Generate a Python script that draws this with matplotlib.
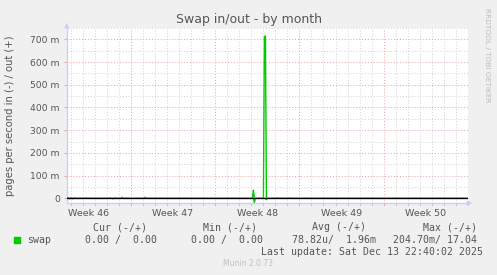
import numpy as np
import matplotlib
matplotlib.use("Agg")
import matplotlib.pyplot as plt
from matplotlib.ticker import FixedLocator, FuncFormatter

# time axis in days, 0 = start of Week 47
x_start, x_end = -5.32, 28.0
week_starts = [0, 7, 14, 21]
week_labels = ["Week 46", "Week 47", "Week 48", "Week 49", "Week 50"]
week_centers = [-3.5, 3.5, 10.5, 17.5, 24.5]

# pages/s in milli units, 2-hour samples
out_days = [-5.2, -4.95, -4.7, -3.7, -1.7, -1.3, -0.7, 1.2, 10.2,
            11.08, 11.16, 12.2, 13.2]
out_vals = [3, 3, 3, 2, 2, 2, 5, 5, 37, 712, 715, 2, 2]
in_days = [-5.1, -4.8, -1.5, 10.25, 11.25]
in_vals = [2, 2, 2, 18, 6]

y_ticks = [0, 100, 200, 300, 400, 500, 600, 700]

BG = "#f0f0f0"
AXIS = "#c8d0f8"
TXT = "#555555"
GREEN = "#00cc00"
MAJOR = "#e8a0a0"
MINOR = "#d0d0d0"

t = np.arange(x_start, x_end, 1 / 12.0)
out_s = np.zeros_like(t)
in_s = np.zeros_like(t)
for d, v in zip(out_days, out_vals):
    out_s[np.argmin(np.abs(t - d))] = v
for d, v in zip(in_days, in_vals):
    in_s[np.argmin(np.abs(t - d))] = v

fig = plt.figure(figsize=(4.97, 2.75), dpi=100, facecolor=BG)
W, H = 497, 275
ax = fig.add_axes([66.7 / W, 1 - 203 / H, (468 - 66.7) / W, (203 - 28) / H])
ax.set_facecolor("white")
ax.set_xlim(x_start, x_end)
ax.set_ylim(-20.5, 750)

# grid
for d in np.arange(-5, 29):
    if d in week_starts:
        continue
    ax.axvline(d, color=MINOR, lw=0.7, ls=(0, (1, 2)), zorder=1)
for d in week_starts:
    ax.axvline(d, color=MAJOR, lw=0.7, ls=(0, (1, 2)), zorder=1)
for y in np.arange(50, 800, 100):
    ax.axhline(y, color=MINOR, lw=0.7, ls=(0, (1, 2)), zorder=1)
for y in y_ticks[1:]:
    ax.axhline(y, color=MAJOR, lw=0.7, ls=(0, (1, 2)), zorder=1)

ax.plot(t, out_s, color=GREEN, lw=1.0, zorder=3)
ax.plot(t, -in_s, color=GREEN, lw=1.0, zorder=3)
ax.axhline(0, color="black", lw=0.9, zorder=4)

for s in ["top", "right"]:
    ax.spines[s].set_visible(False)
for s in ["left", "bottom"]:
    ax.spines[s].set_color(AXIS)
    ax.spines[s].set_linewidth(1.0)

ax.yaxis.set_major_locator(FixedLocator(y_ticks))
ax.yaxis.set_major_formatter(FuncFormatter(lambda v, p: "0" if v == 0 else f"{int(v)} m"))
ax.tick_params(axis="y", length=2, width=0.7, color=MAJOR, labelsize=6.6,
               labelcolor=TXT, pad=3)
ax.xaxis.set_major_locator(FixedLocator(week_centers))
ax.set_xticklabels(week_labels)
ax.tick_params(axis="x", length=0, labelsize=6.8, labelcolor=TXT, pad=4)
for d in np.arange(-5, 29):
    c = MAJOR if d in week_starts else "#c0c0c0"
    ax.plot([d, d], [-20.5, -30], color=c, lw=0.7, clip_on=False, zorder=2)

# arrows on axes
ax.annotate("", xy=(475 / W, 1 - 203 / H), xytext=(466 / W, 1 - 203 / H),
            xycoords="figure fraction",
            arrowprops=dict(arrowstyle="-|>", color=AXIS, lw=0.8, mutation_scale=7))
ax.annotate("", xy=(66.7 / W, 1 - 20 / H), xytext=(66.7 / W, 1 - 30 / H),
            xycoords="figure fraction",
            arrowprops=dict(arrowstyle="-|>", color=AXIS, lw=0.8, mutation_scale=7))

fig.text(248.5 / W, 1 - 19 / H, "Swap in/out - by month", ha="center", va="center",
         fontsize=9, color=TXT)
fig.text(10 / W, 1 - 116 / H, "pages per second in (-) / out (+)", rotation=90,
         ha="center", va="center", fontsize=7.2, color=TXT)
fig.text(487 / W, 1 - 55 / H, "RRDTOOL / TOBI OETIKER", rotation=270,
         ha="center", va="center", fontsize=5.3, color="#bbbbbb")

# legend block
mono = dict(family="DejaVu Sans Mono", fontsize=7.1, color=TXT, va="center")
fig.text(147 / W, 1 - 227.5 / H, "Cur (-/+)", ha="right", **mono)
fig.text(257 / W, 1 - 227.5 / H, "Min (-/+)", ha="right", **mono)
fig.text(366 / W, 1 - 227.5 / H, "Avg (-/+)", ha="right", **mono)
fig.text(477 / W, 1 - 227.5 / H, "Max (-/+)", ha="right", **mono)
fig.patches.append(plt.Rectangle((14 / W, 1 - 243 / H), 6 / W, 6 / H,
                                 transform=fig.transFigure, color=GREEN))
fig.text(27 / W, 1 - 240 / H, "swap", ha="left", **mono)
fig.text(157 / W, 1 - 240 / H, "0.00 /  0.00", ha="right", **mono)
fig.text(263 / W, 1 - 240 / H, "0.00 /  0.00", ha="right", **mono)
fig.text(376 / W, 1 - 240 / H, "78.82u/  1.96m", ha="right", **mono)
fig.text(477 / W, 1 - 240 / H, "204.70m/ 17.04", ha="right", **mono)
fig.text(483 / W, 1 - 252 / H, "Last update: Sat Dec 13 22:40:02 2025", ha="right", **mono)
fig.text(248 / W, 1 - 263.5 / H, "Munin 2.0.73", ha="center", va="center",
         fontsize=5.5, color="#c0c0c0")

fig.savefig("out.png", dpi=100, facecolor=BG)
